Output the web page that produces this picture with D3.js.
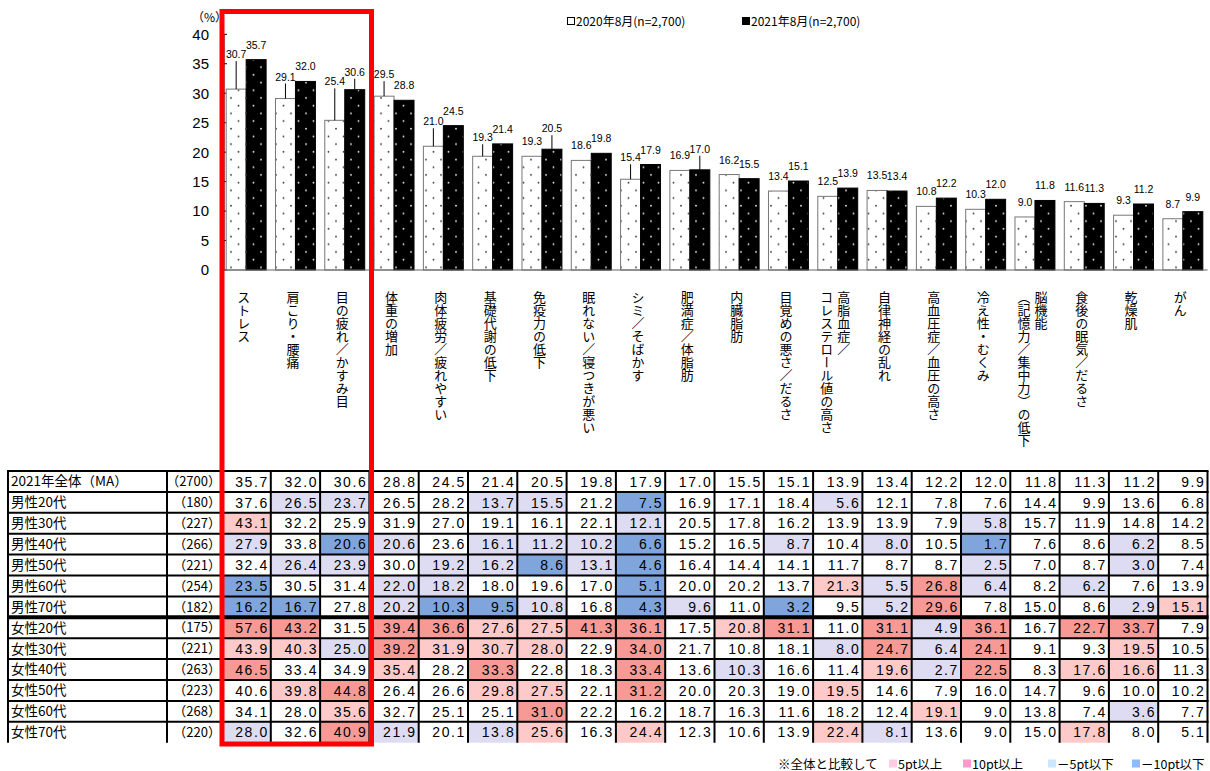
<!DOCTYPE html>
<html>
<head>
<meta charset="utf-8">
<script src="https://cdn.jsdelivr.net/npm/d3@7"></script>
<style>
  body { margin: 0; background: #fff; }
  svg { display: block; }
</style>
</head>
<body>
<svg id="chart" width="1210" height="771"></svg>
<script>
// ---- data ----
const categories = [
  "ストレス", "肩こり・腰痛", "目の疲れ／かすみ目", "体重の増加", "肉体疲労／疲れやすい",
  "基礎代謝の低下", "免疫力の低下", "眠れない／寝つきが悪い", "シミ／そばかす", "肥満症／体脂肪",
  "内臓脂肪", "目覚めの悪さ／だるさ", "高脂血症／\nコレステロール値の高さ", "自律神経の乱れ", "高血圧症／血圧の高さ",
  "冷え性・むくみ", "脳機能\n（記憶力／集中力）の低下", "食後の眠気／だるさ", "乾燥肌", "がん"
];
const seriesNames = ["2020年8月(n=2,700)", "2021年8月(n=2,700)"];
const series2020 = [30.7, 29.1, 25.4, 29.5, 21.0, 19.3, 19.3, 18.6, 15.4, 16.9, 16.2, 13.4, 12.5, 13.5, 10.8, 10.3, 9.0, 11.6, 9.3, 8.7];
const series2021 = [35.7, 32.0, 30.6, 28.8, 24.5, 21.4, 20.5, 19.8, 17.9, 17.0, 15.5, 15.1, 13.9, 13.4, 12.2, 12.0, 11.8, 11.3, 11.2, 9.9];
const yTicks = [0, 5, 10, 15, 20, 25, 30, 35, 40];

const rowLabels = ["2021年全体（MA）", "男性20代", "男性30代", "男性40代", "男性50代", "男性60代", "男性70代",
  "女性20代", "女性30代", "女性40代", "女性50代", "女性60代", "女性70代"];
const rowCounts = ["（2700）", "（180）", "（227）", "（266）", "（221）", "（254）", "（182）",
  "（175）", "（221）", "（263）", "（223）", "（268）", "（220）"];
const rowValues = [
  [35.7, 32.0, 30.6, 28.8, 24.5, 21.4, 20.5, 19.8, 17.9, 17.0, 15.5, 15.1, 13.9, 13.4, 12.2, 12.0, 11.8, 11.3, 11.2, 9.9],
  [37.6, 26.5, 23.7, 26.5, 28.2, 13.7, 15.5, 21.2, 7.5, 16.9, 17.1, 18.4, 5.6, 12.1, 7.8, 7.6, 14.4, 9.9, 13.6, 6.8],
  [43.1, 32.2, 25.9, 31.9, 27.0, 19.1, 16.1, 22.1, 12.1, 20.5, 17.8, 16.2, 13.9, 13.9, 7.9, 5.8, 15.7, 11.9, 14.8, 14.2],
  [27.9, 33.8, 20.6, 20.6, 23.6, 16.1, 11.2, 10.2, 6.6, 15.2, 16.5, 8.7, 10.4, 8.0, 10.5, 1.7, 7.6, 8.6, 6.2, 8.5],
  [32.4, 26.4, 23.9, 30.0, 19.2, 16.2, 8.6, 13.1, 4.6, 16.4, 14.4, 14.1, 11.7, 8.7, 8.7, 2.5, 7.0, 8.7, 3.0, 7.4],
  [23.5, 30.5, 31.4, 22.0, 18.2, 18.0, 19.6, 17.0, 5.1, 20.0, 20.2, 13.7, 21.3, 5.5, 26.8, 6.4, 8.2, 6.2, 7.6, 13.9],
  [16.2, 16.7, 27.8, 20.2, 10.3, 9.5, 10.8, 16.8, 4.3, 9.6, 11.0, 3.2, 9.5, 5.2, 29.6, 7.8, 15.0, 8.6, 2.9, 15.1],
  [57.6, 43.2, 31.5, 39.4, 36.6, 27.6, 27.5, 41.3, 36.1, 17.5, 20.8, 31.1, 11.0, 31.1, 4.9, 36.1, 16.7, 22.7, 33.7, 7.9],
  [43.9, 40.3, 25.0, 39.2, 31.9, 30.7, 28.0, 22.9, 34.0, 21.7, 10.8, 18.1, 8.0, 24.7, 6.4, 24.1, 9.1, 9.3, 19.5, 10.5],
  [46.5, 33.4, 34.9, 35.4, 28.2, 33.3, 22.8, 18.3, 33.4, 13.6, 10.3, 16.6, 11.4, 19.6, 2.7, 22.5, 8.3, 17.6, 16.6, 11.3],
  [40.6, 39.8, 44.8, 26.4, 26.6, 29.8, 27.5, 22.1, 31.2, 20.0, 20.3, 19.0, 19.5, 14.6, 7.9, 16.0, 14.7, 9.6, 10.0, 10.2],
  [34.1, 28.0, 35.6, 32.7, 25.1, 25.1, 31.0, 22.2, 16.2, 18.7, 16.3, 11.6, 18.2, 12.4, 19.1, 9.0, 13.8, 7.4, 3.6, 7.7],
  [28.0, 32.6, 40.9, 21.9, 20.1, 13.8, 25.6, 16.3, 24.4, 12.3, 10.6, 13.9, 22.4, 8.1, 13.6, 9.0, 15.0, 17.8, 8.0, 5.1]
];
const noteText = "※全体と比較して";
const noteLabels = ["5pt以上", "10pt以上", "－5pt以下", "－10pt以下"];

// ---- layout ----
const svg = d3.select("#chart");
const CJK = "'Noto Sans CJK JP', sans-serif";
const LAT = "'Liberation Sans', Arial, sans-serif";

const tableLeft = 8, labelColRight = 167, dataLeft = 221.5, dataRight = 1207.5;
const tableTop = 471, tableBottom = 742.7;
const baseY = 270, topY = 34.3;

const tx = d3.scaleBand().domain(d3.range(categories.length)).range([dataLeft, dataRight]);
const x0 = tx.copy().paddingInner(0.19).paddingOuter(0.095);
const x1 = d3.scaleBand().domain([0, 1]).range([0, x0.bandwidth()]);
const y = d3.scaleLinear().domain([0, 40]).range([baseY, topY]);
const ty = d3.scaleBand().domain(d3.range(rowLabels.length)).range([tableTop, tableBottom]);

// dotted fills for the two series
const defs = svg.append("defs");
function dotPattern(id, bg, dot) {
  const p = defs.append("pattern").attr("id", id)
    .attr("patternUnits", "userSpaceOnUse").attr("width", 15).attr("height", 15.4);
  p.append("rect").attr("width", 15).attr("height", 15.4).attr("fill", bg);
  p.append("circle").attr("cx", 6).attr("cy", 5.6).attr("r", 0.95).attr("fill", dot);
  p.append("circle").attr("cx", 13.5).attr("cy", 13.3).attr("r", 0.95).attr("fill", dot);
}
dotPattern("dots20", "#fff", "#444");
dotPattern("dots21", "#000", "#ddd");

// ---- y axis ----
svg.append("g").selectAll("text").data(yTicks).join("text")
  .attr("x", 209).attr("y", d => y(d)).attr("dy", "0.36em")
  .attr("text-anchor", "end").attr("font-family", LAT).attr("font-size", 15)
  .text(d => d);
svg.append("text").attr("x", 192).attr("y", 22).attr("font-family", CJK).attr("font-size", 12)
  .text("（%）");
svg.append("line").attr("x1", 224).attr("x2", 224).attr("y1", topY).attr("y2", baseY).attr("stroke", "#000");
svg.append("g").selectAll("line").data(yTicks).join("line")
  .attr("x1", 224).attr("x2", 227).attr("y1", d => y(d)).attr("y2", d => y(d)).attr("stroke", "#000");

// ---- bars ----
const seriesData = [series2020, series2021];
const bars = categories.flatMap((c, i) => seriesData.map((s, k) => ({ i, k, v: s[i] })));
svg.append("g").selectAll("rect").data(bars).join("rect")
  .attr("x", d => x0(d.i) + x1(d.k))
  .attr("y", d => y(d.v))
  .attr("width", x1.bandwidth())
  .attr("height", d => y(0) - y(d.v))
  .attr("fill", d => d.k ? "url(#dots21)" : "url(#dots20)")
  .attr("stroke", d => d.k ? "#000" : "#777").attr("stroke-width", 1);
svg.append("line").attr("x1", 224).attr("x2", dataRight).attr("y1", baseY).attr("y2", baseY)
  .attr("stroke", "#666").attr("stroke-width", 1.2);

// value labels; a few are lifted clear of neighbours with a leader line
const labelLift = { "0-0": 20, "1-0": 7, "2-0": 24, "2-1": 3, "3-0": 7, "4-0": 10, "5-0": 4, "6-1": 6, "8-0": 7, "9-1": 6 };
const lblG = svg.append("g");
bars.forEach(d => {
  const cx = x0(d.i) + x1(d.k) + x1.bandwidth() / 2;
  const lift = labelLift[d.i + "-" + d.k] || 0;
  const by = y(d.v) - 11 - lift;
  if (lift > 0) {
    lblG.append("line").attr("x1", cx).attr("x2", cx).attr("y1", y(d.v)).attr("y2", by + 3)
      .attr("stroke", "#000").attr("stroke-width", 1);
  }
  lblG.append("text").attr("x", cx).attr("y", by).attr("text-anchor", "middle")
    .attr("font-family", LAT).attr("font-size", 10.5).attr("fill", "#000")
    .text(d.v.toFixed(1));
});

// category names, written vertically
const catG = svg.append("g");
categories.forEach((c, i) => {
  const lines = c.split("\n");
  const cx = tx(i) + tx.bandwidth() / 2 - 2.5;
  const gap = 17;
  lines.forEach((ln, j) => {
    const off = (lines.length - 1) * gap / 2 - j * gap;
    catG.append("text")
      .attr("x", cx + off).attr("y", 291)
      .attr("font-family", CJK).attr("font-size", 13)
      .style("writing-mode", "vertical-rl")
      .attr("text-anchor", "start")
      .text(ln);
  });
});

// ---- series legend ----
const legG = svg.append("g").attr("font-family", CJK).attr("font-size", 12);
[[567, "#fff"], [742, "#000"]].forEach(([lx, fill], k) => {
  legG.append("rect").attr("x", lx + 0.5).attr("y", 17.5).attr("width", 7).attr("height", 7)
    .attr("fill", fill).attr("stroke", "#000").attr("stroke-width", 1);
  legG.append("text").attr("x", lx + 9).attr("y", 25.5).text(seriesNames[k]);
});

// ---- table ----
const total = rowValues[0];
function cellColor(v, t) {
  const diff = Math.round((v - t) * 10) / 10;
  if (diff >= 10) return "#f79a96";
  if (diff >= 5) return "#fdc9c9";
  if (diff <= -10) return "#80a5dd";
  if (diff <= -5) return "#dddcf2";
  return null;
}
const cells = rowValues.flatMap((row, r) => row.map((v, i) => ({ r, i, v, fill: r > 0 ? cellColor(v, total[i]) : null })));
const tG = svg.append("g");
tG.selectAll("rect").data(cells.filter(d => d.fill)).join("rect")
  .attr("x", d => tx(d.i)).attr("y", d => ty(d.r))
  .attr("width", tx.bandwidth()).attr("height", ty.bandwidth())
  .attr("fill", d => d.fill);

// grid
const hLines = d3.range(rowLabels.length).map(r => ({ y: ty(r), w: r === 7 ? 4 : 2 }));
tG.selectAll("line.h").data(hLines).join("line").attr("class", "h")
  .attr("x1", tableLeft - 1).attr("x2", dataRight + 1).attr("y1", d => d.y).attr("y2", d => d.y)
  .attr("stroke", "#000").attr("stroke-width", d => d.w);
const vLines = [tableLeft, labelColRight].concat(d3.range(categories.length).map(i => tx(i))).concat([dataRight]);
tG.selectAll("line.v").data(vLines).join("line").attr("class", "v")
  .attr("x1", d => d).attr("x2", d => d).attr("y1", tableTop).attr("y2", tableBottom)
  .attr("stroke", "#000").attr("stroke-width", 2);

// texts
tG.selectAll("text.lab").data(rowLabels).join("text").attr("class", "lab")
  .attr("x", 11).attr("y", (d, r) => ty(r) + ty.bandwidth() / 2).attr("dy", "0.36em")
  .attr("font-family", CJK).attr("font-size", 13.5).text(d => d);
tG.selectAll("text.n").data(rowCounts).join("text").attr("class", "n")
  .attr("x", 221).attr("y", (d, r) => ty(r) + ty.bandwidth() / 2).attr("dy", "0.36em")
  .attr("text-anchor", "end").attr("font-family", CJK).attr("font-size", 13).text(d => d);
tG.selectAll("text.v").data(cells).join("text").attr("class", "v")
  .attr("x", d => tx(d.i) + tx.bandwidth() - 2).attr("y", d => ty(d.r) + ty.bandwidth() / 2).attr("dy", "0.37em")
  .attr("text-anchor", "end").attr("font-family", LAT).attr("font-size", 14).attr("letter-spacing", 1.6)
  .text(d => d.v.toFixed(1));

// ---- colour note ----
const noteG = svg.append("g").attr("font-family", CJK).attr("font-size", 12.5);
noteG.append("text").attr("x", 778).attr("y", 768.5).text(noteText);
const noteColors = ["#ffcce5", "#ff99cc", "#cce6ff", "#8cbcff"];
const noteX = [889, 963, 1048, 1132];
noteLabels.forEach((t, k) => {
  noteG.append("rect").attr("x", noteX[k]).attr("y", 759.5).attr("width", 8).attr("height", 8).attr("fill", noteColors[k]);
  noteG.append("text").attr("x", noteX[k] + 9).attr("y", 768.5).text(t);
});

// ---- highlight frame ----
svg.append("rect").attr("x", 222).attr("y", 11.5).attr("width", 149.5).attr("height", 732.5)
  .attr("fill", "none").attr("stroke", "#ff0000").attr("stroke-width", 5);
</script>
</body>
</html>
